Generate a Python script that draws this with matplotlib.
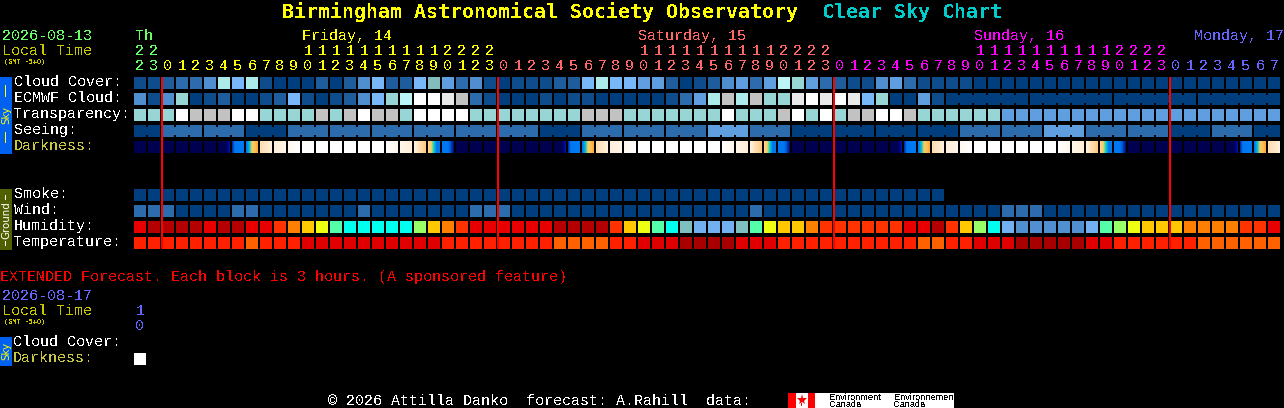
import numpy as np
import matplotlib
matplotlib.use("Agg")
import matplotlib.pyplot as plt
from matplotlib.colors import LinearSegmentedColormap
from matplotlib.patches import Rectangle

# sky palette, index = level used in the rows below
sky_colors = ['#003E7E', '#0F4C8C', '#1E5C9C', '#2D6CAC', '#4F8FCF', '#5F9FDF', '#78B8F8',
              '#98D6D6', '#ADEBEB', '#C2C2C2', '#E9E9E9', '#FFFFFF', '#82BCBC', '#BBF5F5']

cloud_cover = [1, 1, 2, 3, 3, 4, 8, 6, 8, 1, 0, 0, 0, 2, 0, 2, 4, 6, 2, 2, 6,
               12, 5, 3, 4, 1, 0, 1, 1, 1, 2, 2, 6, 8, 6, 6, 5, 5, 2, 0, 1, 2, 4, 5, 3, 5, 13, 7, 5, 3, 2,
               1, 1, 4, 5, 3, 1, 1, 1, 1,
               0, 0, 0, 0, 0, 0, 0, 0, 0, 0, 0, 0, 0, 0, 0, 0, 0, 0, 0, 0, 0, 0]
ecmwf_cloud = [4, 1, 4, 7, 0, 1, 2, 0, 0, 1, 2, 6, 1, 0, 1, 2, 4, 6, 7, 13, 11,
               11, 10, 9, 3, 1, 0, 0, 0, 1, 0, 1, 1, 0, 0, 0, 0, 0, 1, 3, 5, 8, 9, 8, 9, 7, 7, 10, 11, 10, 11, 10,
               6, 7, 0, 0, 5, 1,
               0, 0, 0, 0, 0, 0, 0, 0, 0, 0, 0, 0, 0, 0, 0, 0, 0, 0, 0, 0, 0, 0, 0, 0]
transparency = [7, 7, 7, 11, 9, 9, 9, 11, 11, 7, 7, 7, 7, 9, 7, 9, 11, 9, 9, 7, 11,
                11, 11, 11, 7, 7, 7, 7, 7, 7, 7, 7, 9, 9, 9, 7, 7, 7, 7, 7, 7, 7, 11, 7, 7, 7, 9, 11, 7, 11, 7, 9,
                9, 11, 11, 9, 7, 7, 7, 7, 7, 7,
                5, 5, 5, 5, 5, 5, 5, 5, 5, 5, 5, 5, 5, 5, 5, 5, 5, 5, 5, 5]
# seeing comes in 3 hour groups
seeing_groups = [0, 3, 3, 0, 3, 3, 3, 3, 3, 3, 0, 3, 3, 3, 5, 3, 0, 0, 0, 0, 3, 3, 5, 3, 3, 0, 3, 0]
seeing_spans = [2, 3, 3, 3, 3, 3, 3, 3, 3, 3, 3, 3, 3, 3, 3, 3, 3, 3, 3, 3, 3, 3, 3, 3, 3, 3, 3, 2]
ecmwf_group_start = 58
ecmwf_group_span = 6

darkness = list('NNNNNNEBDCcPWWWWWWpqrKA'
                'NNNNNNNEBDCcPWWWWWWpqrKA'
                'NNNNNNNEBDCcPWWWWWWpqrKA'
                'NNNNNNNEBDC')

dark_stops = {
    'N': ['#000050', '#000050'],
    'E': ['#000050', '#000050', '#000050', '#000050', '#000070', '#0010A0'],
    'B': ['#0030B0', '#0078F0', '#0078F0', '#0078F0', '#0078F0', '#0078F0'],
    'D': ['#0078F0', '#00B8D8', '#F0D060', '#FFC060', '#FFA830'],
    'C': ['#FFDDB0', '#FFF0DC'],
    'c': ['#FFEFD8', '#FFF6EA'],
    'P': ['#FFF8F0', '#FFFFFF'],
    'W': ['#FFFFFF', '#FFFFFF'],
    'p': ['#FFFFFF', '#FFF6EA'],
    'q': ['#FFF6EA', '#FFEFD8'],
    'r': ['#FFF0DC', '#FFDDB0', '#FFC880'],
    'K': ['#FFD090', '#F0D060', '#00D0C8', '#0078F0', '#0078F0'],
    'A': ['#0078F0', '#0078F0', '#0078F0', '#0050D0', '#001080'],
}

smoke = [0] * 58
wind = [3, 3, 3, 0, 0, 0, 0, 3, 3, 0, 0, 0, 0, 0, 0, 0, 3, 0, 0, 0, 0, 0, 0, 0, 3, 3, 3, 0, 0, 0, 0, 0, 0, 0, 0, 0,
        0, 0, 0, 0, 0, 0, 0, 0, 3, 0, 0, 0, 0, 0, 0, 0, 0, 0, 0, 0, 0, 0, 0, 0, 0, 0, 3, 3, 3, 0, 0, 0, 0, 0, 0, 0,
        0, 0, 0, 0, 0, 0, 0, 0, 0, 0]

humidity_colors = {'b': '#B40000', 'r': '#E80000', 'x': '#FF3300', 'o': '#FF8000', 'y': '#FFC800', 'l': '#EEFF11',
                   'g': '#99FF66', 's': '#55FFAA', 'c': '#00FFEE', 't': '#80BFBF', 'u': '#72B0F0', 'm': '#5090D0'}
humidity = list('rbbbbrbbrrxoylscccccg'
                'yoxrrrrrrbbbbxylsctuuutslyyoxxx'
                'xxxrrbxygcummmmmusglyyyooooxxr')

temp_colors = {'R': '#FF2000', 'O': '#FF6000', 'D': '#E00000', 'K': '#A80000'}
temperature = list('RRRRRRRRORRRDDDDDDDDD'
                   'DRRRRRRRROOOORRDDDKKKKDDDRRRRRR'
                   'RRRROORRDDDKKKKKDDRRRRRROOOOOO')

days = [('Th', 135, '#66FF66', [22, 23]),
        ('Friday, 14', 302, '#FFFF00', list(range(24))),
        ('Saturday, 15', 638, '#FF6666', list(range(24))),
        ('Sunday, 16', 974, '#FF00FF', list(range(24))),
        ('Monday, 17', 1194, '#6666FF', [0, 1, 2, 3, 4, 5, 6, 7])]
midnight_cols = [2, 26, 50, 74]
row_labels = ['Cloud Cover:', 'ECMWF Cloud:', 'Transparency:', 'Seeing:', 'Darkness:']
ground_labels = ['Smoke:', 'Wind:', 'Humidity:', 'Temperature:']

X0, PITCH, BLOCK = 134, 14, 12
MONO = 'Liberation Mono'
FS = 10.8
LABEL_YEL = '#C8C840'
TIME_YEL = '#C8C800'

fig = plt.figure(figsize=(12.84, 4.08), dpi=100, facecolor='black')
ax = fig.add_axes([0, 0, 1, 1])
ax.set_xlim(0, 1284)
ax.set_ylim(408, 0)
ax.axis('off')


def rect(x, y, w, h, color, z=2):
    ax.add_patch(Rectangle((x, y), w, h, facecolor=color, edgecolor='none', linewidth=0, antialiased=False, zorder=z))


def txt(x, y, s, color='white', size=FS, weight='normal', family=MONO, **kw):
    t = ax.text(x, y, s, color=color, fontsize=size, fontweight=weight, family=family, va='baseline', ha='left', **kw)
    t.set_antialiased(False)
    return t


def row(values, y, colors):
    for i, v in enumerate(values):
        rect(X0 + i * PITCH, y, BLOCK, BLOCK, colors[v])


# title
txt(282, 18, 'Birmingham Astronomical Society Observatory', '#FFFF00', 14.35, 'bold', 'DejaVu Sans Mono')
txt(822, 18, 'Clear Sky Chart', '#00CCCC', 14.35, 'bold', 'DejaVu Sans Mono')

# header
txt(2, 40, '2026-08-13', '#66FF66')
txt(2, 55, 'Local Time', TIME_YEL)
txt(4, 64, '(GMT -5+0)', TIME_YEL, 4.9, 'bold', 'DejaVu Sans Mono')

col = 0
for name, name_x, color, hours in days:
    txt(name_x, 40, name, color)
    for h in hours:
        cx = X0 + col * PITCH + 6
        if h >= 10:
            txt(cx, 55, str(h // 10), color).set_ha('center')
        txt(cx, 70, str(h % 10), color).set_ha('center')
        col += 1

# sky rows
row(cloud_cover, 77, sky_colors)
row(ecmwf_cloud, 93, sky_colors)
row(transparency, 109, sky_colors)

for c in range(ecmwf_group_start, len(ecmwf_cloud) - 1):
    if (c - ecmwf_group_start) % ecmwf_group_span != ecmwf_group_span - 1:
        rect(X0 + c * PITCH + BLOCK, 95, PITCH - BLOCK, 8, sky_colors[ecmwf_cloud[c]])

start = 0
for level, span in zip(seeing_groups, seeing_spans):
    for c in range(start, start + span):
        rect(X0 + c * PITCH, 125, BLOCK, BLOCK, sky_colors[level])
        if c < start + span - 1:
            rect(X0 + c * PITCH + BLOCK, 127, PITCH - BLOCK, 8, sky_colors[level])
    start += span

for i, code in enumerate(darkness):
    cmap = LinearSegmentedColormap.from_list(code, dark_stops[code])
    left = X0 + i * PITCH
    ax.imshow(np.arange(BLOCK).reshape(1, BLOCK), cmap=cmap, extent=(left, left + BLOCK, 153, 141),
              aspect='auto', interpolation='nearest', zorder=2)

for i, label in enumerate(row_labels):
    txt(14, 86 + i * 16, label, LABEL_YEL if label == 'Darkness:' else 'white')

# ground rows
row(smoke, 189, sky_colors)
row(wind, 205, sky_colors)
row(humidity, 221, humidity_colors)
row(temperature, 237, temp_colors)
for i, label in enumerate(ground_labels):
    txt(14, 198 + i * 16, label)

for c in midnight_cols:
    rect(X0 + c * PITCH - 1, 77, 2, 172, '#FF0000', z=3)

# side bars
rect(0, 77, 12, 77, '#0060F0')
rect(0, 189, 12, 61, '#506000')
rect(0, 337, 12, 29, '#0060F0')
for y0, y1 in [(85, 97), (132, 143)]:
    rect(5, y0, 1, y1 - y0, '#FFFF00', z=3)
for y0, y1 in [(195, 200), (241, 246)]:
    rect(5, y0, 1, y1 - y0, '#FFFFFF', z=3)
ax.text(6, 115, 'Sky', color='#FFFF00', fontsize=7.4, family='DejaVu Sans', rotation=90, ha='center', va='center')
ax.text(6, 220, 'Ground', color='white', fontsize=7.4, family='DejaVu Sans', rotation=90, ha='center', va='center')
ax.text(6, 351, 'Sky', color='#FFFF00', fontsize=7.4, family='DejaVu Sans', rotation=90, ha='center', va='center')

# extended forecast
txt(0, 281, 'EXTENDED Forecast. Each block is 3 hours. (A sponsored feature)', '#FF0000')
txt(2, 300, '2026-08-17', '#6666FF')
txt(2, 315, 'Local Time', TIME_YEL)
txt(4, 324, '(GMT -5+0)', TIME_YEL, 4.9, 'bold', 'DejaVu Sans Mono')
txt(140, 315, '1', '#6666FF').set_ha('center')
txt(140, 330, '0', '#6666FF').set_ha('center')
txt(13, 346, 'Cloud Cover:')
txt(13, 362, 'Darkness:', LABEL_YEL)
rect(134, 353, 12, 12, '#FFFFFF')

# footer and logo
txt(328, 405, '\u00a9 2026 Attilla Danko  forecast: A.Rahill  data:')
rect(788, 393, 166, 15, '#FFFFFF')
rect(788, 393, 8, 15, '#FF0000', z=3)
rect(808, 393, 7, 15, '#FF0000', z=3)
ax.plot([802], [400], marker='*', markersize=8, color='#FF0000', markeredgewidth=0, zorder=3)
rect(801, 403, 1, 3, '#FF0000', z=3)
for x, a, b in [(829, 'Environment', 'Canada'), (894, 'Environnement', 'Canada')]:
    t = ax.text(x, 400, a, color='black', fontsize=6.6, family='Liberation Sans', va='baseline', zorder=4)
    t2 = ax.text(x, 407, b, color='black', fontsize=6.6, family='Liberation Sans', va='baseline', zorder=4)
    t.set_antialiased(False)
    t2.set_antialiased(False)

ax.set_xlim(0, 1284)
ax.set_ylim(408, 0)
fig.savefig('out.png', dpi=100, facecolor='black')
